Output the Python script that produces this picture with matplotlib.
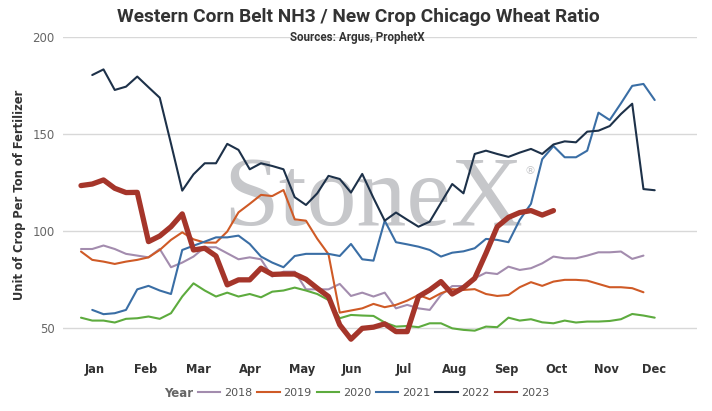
import matplotlib
matplotlib.use("Agg")
import matplotlib.pyplot as plt
from matplotlib import font_manager
from matplotlib.lines import Line2D

# weekly ratio values, x = week index on a common calendar grid
y2018 = [90.7, 90.7, 92.5, 90.7, 88.2, 87.3, 86.4, 90.7, 81.3, 83.7,
         86.8, 91.6, 91.6, 88.5, 85.4, 86.4, 85.4, 76.5, 79.0, 79.0,
         69.9, 69.9, 69.9, 72.7, 66.5, 68.2, 66.2, 68.2, 60.1, 61.9,
         60.1, 59.3, 67.0, 71.6, 71.6, 75.6, 78.5, 77.8, 81.6, 79.9,
         80.8, 83.3, 86.8, 85.9, 85.9, 87.3, 89.0, 89.0, 89.4, 85.6, 87.3]
y2019 = [89.4, 85.1, 84.2, 83.0, 84.2, 85.1, 86.4, 90.2, 95.4, 99.3,
         95.7, 94.0, 94.0, 99.7, 109.6, 114.0, 118.6, 118.0, 121.1, 106.0,
         105.3, 96.0, 88.0, 57.9, 59.0, 60.1, 62.4, 60.7, 61.9, 64.1,
         67.0, 64.8, 67.9, 70.0, 69.6, 70.0, 67.5, 66.5, 67.0, 71.0,
         73.6, 71.7, 73.9, 74.8, 74.8, 74.4, 72.7, 71.0, 71.0, 70.5, 68.4]
y2020 = [55.3, 53.8, 53.8, 52.8, 54.7, 55.0, 55.9, 54.7, 57.6, 66.2,
         73.0, 69.3, 66.2, 68.2, 66.2, 67.5, 65.8, 68.7, 69.3, 70.8,
         69.3, 67.5, 64.4, 55.0, 56.7, 56.4, 56.2, 52.8, 50.7, 51.0,
         50.4, 52.4, 52.4, 49.8, 49.0, 48.6, 50.7, 50.4, 55.3, 53.8,
         54.5, 52.9, 52.4, 53.8, 52.8, 53.3, 53.3, 53.6, 54.5, 57.2, 56.4, 55.3]
y2021 = [59.3, 57.1, 57.6, 59.3, 69.9, 71.7, 69.3, 67.5, 90.2,
         92.4, 94.5, 96.7, 96.7, 97.6, 93.3, 86.8, 83.7, 81.3, 87.1,
         88.2, 88.2, 88.2, 87.1, 93.3, 85.4, 84.7, 105.3, 94.2, 93.1,
         91.9, 90.2, 86.8, 88.8, 89.5, 91.1, 95.9, 95.4, 94.2, 105.7,
         114.0, 137.0, 143.8, 138.0, 138.0, 141.4, 161.0, 157.2, 165.8, 174.8, 175.8, 167.5]
y2022 = [180.4, 183.3, 172.7, 174.4, 179.6, 174.1, 168.7, 145.0, 120.8,
         129.2, 134.9, 134.9, 144.9, 141.8, 131.8, 134.9, 133.5, 131.8, 117.4,
         113.4, 119.4, 128.4, 126.8, 119.8, 129.4, 117.0, 105.3, 109.5, 105.8,
         102.2, 104.8, 114.5, 124.2, 119.4, 139.7, 141.4, 139.7, 138.2, 140.4,
         142.3, 139.7, 144.6, 146.2, 145.7, 151.2, 151.7, 154.1, 160.3, 165.6, 121.6, 121.0]
y2023 = [123.4, 124.2, 126.3, 122.0, 119.8, 119.9, 94.5, 97.4, 102.2, 108.8,
         90.2, 91.1, 87.1, 72.2, 74.8, 74.8, 80.8, 77.6, 77.8, 77.8,
         75.1, 70.5, 66.2, 51.6, 44.2, 49.8, 50.4, 52.1, 48.1, 48.1,
         66.2, 69.6, 73.9, 67.5, 70.8, 75.6, 88.5, 102.2, 107.0, 109.5,
         110.5, 108.2, 110.5]

years = ['2018', '2019', '2020', '2021', '2022', '2023']
series = [y2018, y2019, y2020, y2021, y2022, y2023]
start_week = [0, 0, 0, 1, 1, 0]
colors = ['#a38cae', '#cf5a26', '#5dab3e', '#3a6ea5', '#1d3149', '#a5352a']

months = ['Jan', 'Feb', 'Mar', 'Apr', 'May', 'Jun',
          'Jul', 'Aug', 'Sep', 'Oct', 'Nov', 'Dec']
month_pos = [1.24, 5.78, 10.4, 15.02, 19.64, 24.1,
             28.7, 33.24, 37.8, 42.3, 46.7, 50.9]

installed = {f.name for f in font_manager.fontManager.ttflist}
if 'Liberation Sans Narrow' in installed:
    title_font, title_size, sub_size = 'Liberation Sans Narrow', 13.5, 8.8
else:
    title_font, title_size, sub_size = 'Roboto', 13.8, 8.4
serif_font = 'Liberation Serif' if 'Liberation Serif' in installed else 'DejaVu Serif'

plt.rcParams['font.family'] = ['DejaVu Sans']

fig = plt.figure(figsize=(7.12, 4.11), dpi=100)
ax = fig.add_axes([63 / 712, 1 - 352 / 411, 634 / 712, 315 / 411])

# watermark
ax.text(223 / 712, 1 - 225 / 411, 'StoneX', transform=fig.transFigure,
        family=serif_font, fontsize=72, color='#c6c7ca', ha='left',
        va='baseline', zorder=0.5)
ax.text(530 / 712, 1 - 171 / 411, '\u00ae', transform=fig.transFigure,
        family='DejaVu Sans', fontsize=8, color='#c6c7ca', ha='center',
        va='center', zorder=0.5)

for yr, vals, s0, c in zip(years, series, start_week, colors):
    xs = list(range(s0, s0 + len(vals)))
    lw = 3.8 if yr == '2023' else 1.5
    ax.plot(xs, vals, color=c, lw=lw, solid_joinstyle='round',
            solid_capstyle='round', zorder=3 if yr == '2023' else 2)

ax.set_xlim(-1.6, 54.76)
ax.set_ylim(37.6, 200)
ax.set_yticks([50, 100, 150, 200])
ax.grid(axis='y', color='#d8d8d8', lw=1)
ax.set_axisbelow(True)
for sp in ax.spines.values():
    sp.set_visible(False)

ax.set_xticks(month_pos)
ax.set_xticklabels(months, fontweight='bold', color='#333333', fontsize=8.3)
ax.tick_params(axis='x', length=0, pad=8)
ax.tick_params(axis='y', length=0, pad=6, labelsize=8.5, labelcolor='#666666')

fig.text(20 / 712, 1 - 195 / 411, 'Unit of Crop Per Ton of Fertilizer',
         rotation=90, ha='center', va='center', fontweight='bold',
         fontsize=8.3, color='#333333')

fig.text(358 / 712, 1 - 17 / 411,
         'Western Corn Belt NH3 / New Crop Chicago Wheat Ratio',
         ha='center', va='center', family=title_font, fontweight='bold',
         fontsize=title_size, color='#333333')
fig.text(357 / 712, 1 - 37 / 411, 'Sources: Argus, ProphetX',
         ha='center', va='center', family=title_font, fontweight='bold',
         fontsize=sub_size, color='#333333')

# legend along the bottom
handles = [Line2D([], [], color=c, lw=1.5) for c in colors]
fig.legend(handles, years, loc='center left', bbox_to_anchor=(198 / 712, 1 - 393 / 411),
           ncol=6, frameon=False, fontsize=8, labelcolor='#555555',
           handlelength=2.0, handletextpad=0.35, columnspacing=0.45,
           borderaxespad=0, borderpad=0)
fig.text(193 / 712, 1 - 393 / 411, 'Year', ha='right', va='center',
         fontweight='bold', fontsize=8.5, color='#666666')

fig.savefig('out.png', dpi=100)
